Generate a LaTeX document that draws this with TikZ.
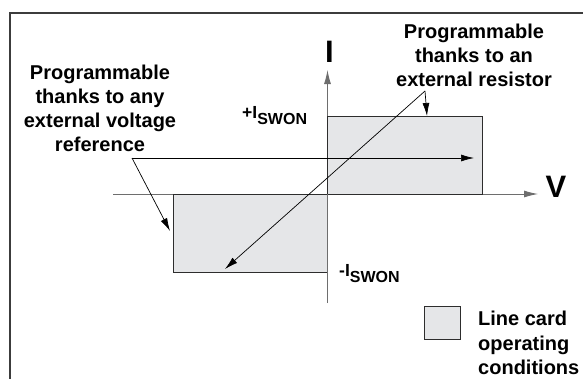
\documentclass[tikz,border=0pt]{standalone}
\usepackage{fontspec}
\setmainfont{Liberation Sans}
\usetikzlibrary{arrows.meta}
\definecolor{boxfill}{RGB}{229,230,232}
\definecolor{framec}{RGB}{60,60,60}
\definecolor{axisc}{RGB}{110,110,110}
\definecolor{edgec}{RGB}{45,45,45}
\begin{document}
\begin{tikzpicture}[x=1pt,y=-1pt,
  lbl/.style={font=\bfseries\fontsize{20}{24.3}\selectfont, inner sep=0pt},
  axislbl/.style={font=\bfseries\fontsize{31}{31}\selectfont, inner sep=0pt},
  swon/.style={font=\bfseries\fontsize{17.5}{17.5}\selectfont, inner sep=0pt},
  ptr/.style={draw=black, line width=0.7pt, -{Latex[length=13pt,width=7pt]}},
  axisline/.style={draw=axisc, line width=0.9pt, -{Latex[length=14pt,width=7pt]}},
  region/.style={draw=edgec, line width=1pt, fill=boxfill},
]
\useasboundingbox (0,0) rectangle (583,378);
% frame
\draw[framec, line width=1.5pt] (10,379) -- (10,13) -- (584,13);
% axes
\coordinate (vstart) at (113,194);
\coordinate (vend) at (538,194);
\coordinate (istart) at (327.5,303);
\coordinate (iend) at (327.5,70);
\draw[axisline] (vstart) -- (vend);
\draw[axisline] (istart) -- (iend);
% operating regions
\draw[region] (327.5,116) rectangle (482,194);
\draw[region] (173,194) rectangle (327.5,272);
\draw[axisc, line width=0.9pt] (327.5,194) -- (327.5,303);
% axis labels
\node[axislbl, anchor=base] (ilab) at (329.5,62) {I};
\node[axislbl, anchor=base] (vlab) at (556,197) {V};
% current levels
\node[swon, anchor=base west] (ipos) at (242,118.5) {+I\raisebox{-5.5pt}{\fontsize{16}{16}\selectfont SWON}};
\node[swon, anchor=base west] (ineg) at (339,276.5) {-I\raisebox{-5.5pt}{\fontsize{16}{16}\selectfont SWON}};
% annotations
\node[lbl, align=center, anchor=north] (txtres) at (474,23.4) {Programmable\\thanks to an\\external resistor};
\node[lbl, align=center, anchor=north] (txtref) at (100,64.4) {Programmable\\thanks to any\\external voltage\\reference};
% pointers
\coordinate (pref) at (132,158);
\coordinate (prefA) at (474,158);
\coordinate (prefB) at (170,231);
\draw[ptr] (pref) -- (prefA);
\draw[ptr] (pref) -- (prefB);
\coordinate (pres) at (425,91);
\coordinate (presA) at (427,116);
\coordinate (presB) at (225,269);
\draw[ptr] (pres) -- (presA);
\draw[ptr] (pres) -- (presB);
% legend
\draw[region] (424,306) rectangle (460,339);
\node[lbl, align=left, anchor=north west] (legend) at (478,311) {Line card\\operating\\conditions};
\end{tikzpicture}
\end{document}
